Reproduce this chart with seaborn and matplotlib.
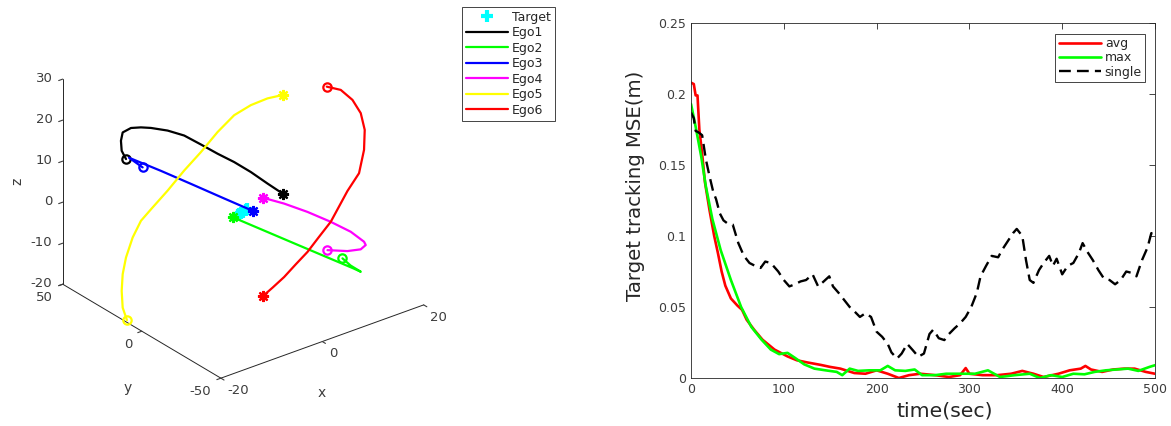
import matplotlib
matplotlib.use("Agg")
import matplotlib.pyplot as plt
import pandas as pd
import seaborn as sns

# ---------------- 3-D trajectories (x, y, z) ----------------
target_x = [-1.3, -0.8, -0.3, 0.2, 0.8, 1.3]
target_y = [-0.6, -0.2, 0.2, 0.6, 1.0, 1.5]
target_z = [0.0, 0.0, 0.0, 0.0, 0.0, 0.0]

ego1_x = [-11.81, -12.32, -12.04, -11.38, -9.87, -8.52, -7.41, -5.48, -4.05, -3.0, -1.59, -0.01, 1.67, 3.03, 4.51]
ego1_y = [36.25, 37.35, 38.71, 39.73, 39.33, 37.36, 34.6, 30.21, 24.33, 17.14, 11.1, 5.69, 0.54, -5.67, -10.41]
ego1_z = [10, 12, 14, 15.5, 16, 16, 16, 15.5, 15, 14, 12.5, 11, 9, 7, 5]

ego2_x = [7.79, 9.0, 10.66, 10.0, 5.02, -0.57]
ego2_y = [-37.8, -39.1, -40.16, -37.2, -17.17, 4.89]
ego2_z = [-6, -8, -10, -9.5, -6, -2]

ego3_x = [-11.49, -12.44, -8.86, -5.58, -2.05, 1.52]
ego3_y = [26.76, 32.35, 23.63, 15.19, 6.91, -1.43]
ego3_z = [10, 11.5, 8.7, 6, 3, 0]

ego4_x = [7.65, 10.75, 12.74, 13.82, 13.87, 13.45, 12.2, 9.7, 6.86, 3.75]
ego4_y = [-28.77, -31.45, -33.47, -33.17, -31.94, -24.89, -16.26, -9.55, -3.87, -0.21]
ego4_z = [-6, -7, -7, -6.5, -6, -5, -4, -2, 0, 2]

ego5_x = [-19.8, -19.5, -19, -18, -17, -15.5, -14, -12, -10, -8, -6, -4, -2, 0, 2, 4]
ego5_y = [10.02, 13.7, 15.93, 18.51, 19.63, 20.21, 19.77, 19.24, 15.73, 11.66, 7.52, 3.38, -0.69, -4.83, -8.97, -12.03]
ego5_z = [-19.71, -17.62, -14.28, -11.24, -7.89, -3.8, -0.29, 2.0, 6.2, 11.14, 15.68, 20.63, 24.77, 27.28, 28.98, 29.61]

ego6_x = [16, 17, 17.5, 17.5, 17, 16, 14.5, 12.5, 11, 9.5, 7.5, 6, 4.5, 3, 1.5, 0]
ego6_y = [-1.56, -7.18, -12.98, -18.22, -22.34, -25.11, -26.76, -25.84, -25.15, -24.91, -23.75, -21.42, -18.83, -16.25, -13.92, -12.22]
ego6_z = [23.89, 23.94, 22.61, 20.58, 17.67, 13.87, 9.23, 5.58, 2.18, -0.8, -3.92, -7.38, -10.32, -13.35, -15.74, -17.67]

ego_names = ["Ego1", "Ego2", "Ego3", "Ego4", "Ego5", "Ego6"]
ego_colors = ["#000000", "#00ff00", "#0000ff", "#ff00ff", "#ffff00", "#ff0000"]

# ---------------- tracking error over time ----------------
time_avg = [0, 3, 5, 7, 9, 12, 15, 20, 25, 29, 33, 37, 43, 50, 55, 60, 68, 77, 90, 104, 114, 125, 140,
            150, 161, 176, 188, 200, 212, 224, 235, 247, 263, 278, 290, 296, 300, 314, 330, 345, 357,
            369, 380, 396, 408, 420, 425, 431, 443, 455, 467, 478, 490, 500]
mse_avg = [0.208, 0.207, 0.199, 0.199, 0.175, 0.158, 0.138, 0.118, 0.1, 0.088, 0.075, 0.065, 0.056,
           0.051, 0.048, 0.041, 0.034, 0.027, 0.02, 0.0152, 0.0125, 0.011, 0.0092, 0.0078, 0.0066,
           0.0035, 0.003, 0.0054, 0.003, 0.0, 0.002, 0.003, 0.002, 0.0007, 0.002, 0.007, 0.003,
           0.002, 0.002, 0.003, 0.005, 0.003, 0.0007, 0.003, 0.0054, 0.0066, 0.0085, 0.006, 0.0043,
           0.006, 0.0066, 0.0066, 0.0043, 0.003]

time_max = [0, 5, 11, 16, 23, 32, 43, 54, 65, 76, 86, 95, 104, 112, 122, 133, 145, 157, 163, 171, 180,
            192, 204, 212, 220, 231, 241, 249, 263, 275, 290, 306, 320, 333, 349, 365, 376, 388, 400,
            412, 424, 435, 447, 459, 471, 482, 494, 500]
mse_max = [0.193, 0.177, 0.156, 0.135, 0.112, 0.09, 0.069, 0.05, 0.036, 0.027, 0.02, 0.0168, 0.0177,
           0.0142, 0.0096, 0.0066, 0.0054, 0.0043, 0.002, 0.0066, 0.005, 0.0054, 0.0054, 0.0085,
           0.0054, 0.005, 0.006, 0.002, 0.002, 0.003, 0.003, 0.003, 0.0054, 0.0007, 0.002, 0.003,
           0.0, 0.002, 0.0007, 0.003, 0.0026, 0.0043, 0.0054, 0.006, 0.0066, 0.005, 0.0078, 0.009]

time_single = [0, 3, 5, 8, 12, 16, 20, 24, 27, 31, 35, 39, 45, 51, 57, 63, 69, 75, 80, 86, 94, 100, 106,
               112, 118, 124, 131, 137, 143, 149, 153, 159, 165, 171, 176, 182, 188, 194, 200, 206,
               212, 216, 222, 227, 233, 239, 245, 251, 257, 261, 267, 273, 278, 284, 290, 296, 302,
               308, 312, 318, 324, 331, 335, 341, 347, 351, 357, 361, 365, 369, 375, 380, 386, 390,
               394, 400, 406, 412, 418, 422, 427, 433, 439, 445, 451, 457, 463, 469, 475, 480, 486,
               492, 496, 500]
mse_single = [0.187, 0.183, 0.174, 0.173, 0.171, 0.154, 0.142, 0.131, 0.126, 0.116, 0.111, 0.109, 0.108,
              0.095, 0.086, 0.081, 0.079, 0.0775, 0.082, 0.081, 0.075, 0.069, 0.0645, 0.066, 0.068,
              0.069, 0.073, 0.0645, 0.068, 0.0716, 0.0645, 0.06, 0.055, 0.05, 0.047, 0.043, 0.0456,
              0.043, 0.0326, 0.029, 0.024, 0.018, 0.0137, 0.0172, 0.024, 0.0196, 0.015, 0.0172, 0.031,
              0.034, 0.028, 0.0267, 0.031, 0.035, 0.0385, 0.043, 0.05, 0.06, 0.0716, 0.079, 0.086,
              0.085, 0.09, 0.096, 0.102, 0.105, 0.1, 0.083, 0.069, 0.067, 0.076, 0.081, 0.086, 0.079,
              0.084, 0.073, 0.079, 0.081, 0.088, 0.095, 0.089, 0.083, 0.076, 0.07, 0.069, 0.066, 0.069,
              0.075, 0.074, 0.0716, 0.083, 0.092, 0.102, 0.102]

x_ticks_3d = [-20, 0, 20]
y_ticks_3d = [-50, 0, 50]
z_ticks_3d = [-20, -10, 0, 10, 20, 30]
time_ticks = [0, 100, 200, 300, 400, 500]
mse_ticks = [0, 0.05, 0.1, 0.15, 0.2, 0.25]
mse_tick_labels = ["0", "0.05", "0.1", "0.15", "0.2", "0.25"]

# ---------------- style ----------------
sns.set_style("white")
plt.rcParams.update({
    "font.family": ["DejaVu Sans"],
    "axes.unicode_minus": False,
    "axes.edgecolor": "#262626",
    "axes.linewidth": 0.6,
    "xtick.color": "#262626",
    "ytick.color": "#262626",
    "xtick.labelcolor": "#3c3c3c",
    "ytick.labelcolor": "#3c3c3c",
    "text.color": "#262626",
    "axes.labelcolor": "#262626",
})

fig = plt.figure(figsize=(11.71, 4.26), dpi=100)
W, H = 1171.0, 426.0

# ---------------- left: 3-D trajectories ----------------
side = 418.5
ax3 = fig.add_axes([28.3 / W, (H - 406.9) / H, side / W, side / H], projection="3d")
ax3.set_proj_type("ortho")
ax3.view_init(elev=27.6, azim=-127.95)
ax3.set_box_aspect((1, 1, 0.9))
ax3.patch.set_alpha(0)
ax3.grid(False)
for axis in (ax3.xaxis, ax3.yaxis, ax3.zaxis):
    axis.pane.set_visible(False)
    axis._axinfo["tick"]["inward_factor"] = 0.25
    axis._axinfo["tick"]["outward_factor"] = 0.0
    axis.line.set_color("#262626")
    axis.line.set_linewidth(0.7)

ax3.set_xlim(-20, 20)
ax3.set_ylim(-50, 50)
ax3.set_zlim(-20, 30)
ax3.set_xticks(x_ticks_3d)
ax3.set_yticks(y_ticks_3d)
ax3.set_zticks(z_ticks_3d)
ax3.tick_params(labelsize=9.5, colors="#3c3c3c")
ax3.xaxis.set_tick_params(pad=-1.5)
ax3.yaxis.set_tick_params(pad=-0.5)
ax3.zaxis.set_tick_params(pad=-3.5)
for lbl in ax3.get_xticklabels():
    lbl.set_horizontalalignment("left")
    lbl.set_verticalalignment("center")
for lbl in ax3.get_yticklabels():
    lbl.set_horizontalalignment("right")
    lbl.set_verticalalignment("center")
for lbl in ax3.get_zticklabels():
    lbl.set_horizontalalignment("right")
    lbl.set_verticalalignment("center")

# axis titles of the 3-D box
lab_kw = dict(fontsize=10, color="#3c3c3c", ha="center", va="center")
fig.text(322 / W, 1 - 393 / H, "x", **lab_kw)
fig.text(128 / W, 1 - 388 / H, "y", **lab_kw)
fig.text(17 / W, 1 - 181 / H, "z", rotation=90, **lab_kw)

asterisk = (8, 2, 0)
tgt = ax3.plot(target_x, target_y, target_z, linestyle="none", marker="+",
               markersize=8, markeredgewidth=3, color="#00ffff", label="Target")[0]

ego_xyz = [(ego1_x, ego1_y, ego1_z), (ego2_x, ego2_y, ego2_z), (ego3_x, ego3_y, ego3_z),
           (ego4_x, ego4_y, ego4_z), (ego5_x, ego5_y, ego5_z), (ego6_x, ego6_y, ego6_z)]
handles = [tgt]
for (xs, ys, zs), name, col in zip(ego_xyz, ego_names, ego_colors):
    h = ax3.plot(xs, ys, zs, color=col, linewidth=1.6, label=name)[0]
    ax3.plot(xs[:1], ys[:1], zs[:1], linestyle="none", marker="o", markersize=6,
             markerfacecolor="none", markeredgewidth=1.6, color=col)
    ax3.plot(xs[-1:], ys[-1:], zs[-1:], linestyle="none", marker=asterisk, markersize=8,
             markeredgewidth=1.6, color=col)
    handles.append(h)

leg3 = fig.legend(handles=handles, loc="upper left", bbox_to_anchor=(462 / W, 1 - 7 / H),
                  bbox_transform=fig.transFigure, fontsize=9, frameon=True, fancybox=False,
                  edgecolor="#262626", framealpha=1, handlelength=3.4, handletextpad=0.3,
                  labelspacing=0.2, borderpad=0.3, borderaxespad=0)
leg3.get_frame().set_linewidth(0.6)

# ---------------- right: tracking MSE ----------------
ax = fig.add_axes([691 / W, (H - 378) / H, (1155 - 691) / W, (378 - 23) / H])
df_avg = pd.DataFrame({"time": time_avg, "mse": mse_avg})
df_max = pd.DataFrame({"time": time_max, "mse": mse_max})
df_single = pd.DataFrame({"time": time_single, "mse": mse_single})
sns.lineplot(data=df_avg, x="time", y="mse", color="#ff0000", linewidth=1.9, label="avg", ax=ax)
sns.lineplot(data=df_max, x="time", y="mse", color="#00ff00", linewidth=1.9, label="max", ax=ax)
sns.lineplot(data=df_single, x="time", y="mse", color="#000000", linewidth=1.7,
             linestyle=(0, (5, 2.6)), label="single", ax=ax)

ax.set_xlim(0, 500)
ax.set_ylim(0, 0.25)
ax.set_xticks(time_ticks)
ax.set_yticks(mse_ticks)
ax.set_yticklabels(mse_tick_labels)
ax.tick_params(direction="in", top=True, right=True, length=4, width=0.6, labelsize=9)
for s in ax.spines.values():
    s.set_visible(True)
    s.set_color("#262626")
    s.set_linewidth(0.6)
ax.set_xlabel("time(sec)", fontsize=14.7)
ax.set_ylabel("Target tracking MSE(m)", fontsize=14.2)
ax.xaxis.set_label_coords(0.547, -0.066)
ax.yaxis.set_label_coords(-0.099, 0.541)

leg = ax.legend(loc="upper right", bbox_to_anchor=(1145 / W, 1 - 34 / H),
                bbox_transform=fig.transFigure, fontsize=9, frameon=True, fancybox=False,
                edgecolor="#262626", framealpha=1, handlelength=3.4, handletextpad=0.3,
                labelspacing=0.1, borderpad=0.25, borderaxespad=0)
leg.get_frame().set_linewidth(0.6)

fig.savefig("out.png", dpi=100, facecolor="white")
